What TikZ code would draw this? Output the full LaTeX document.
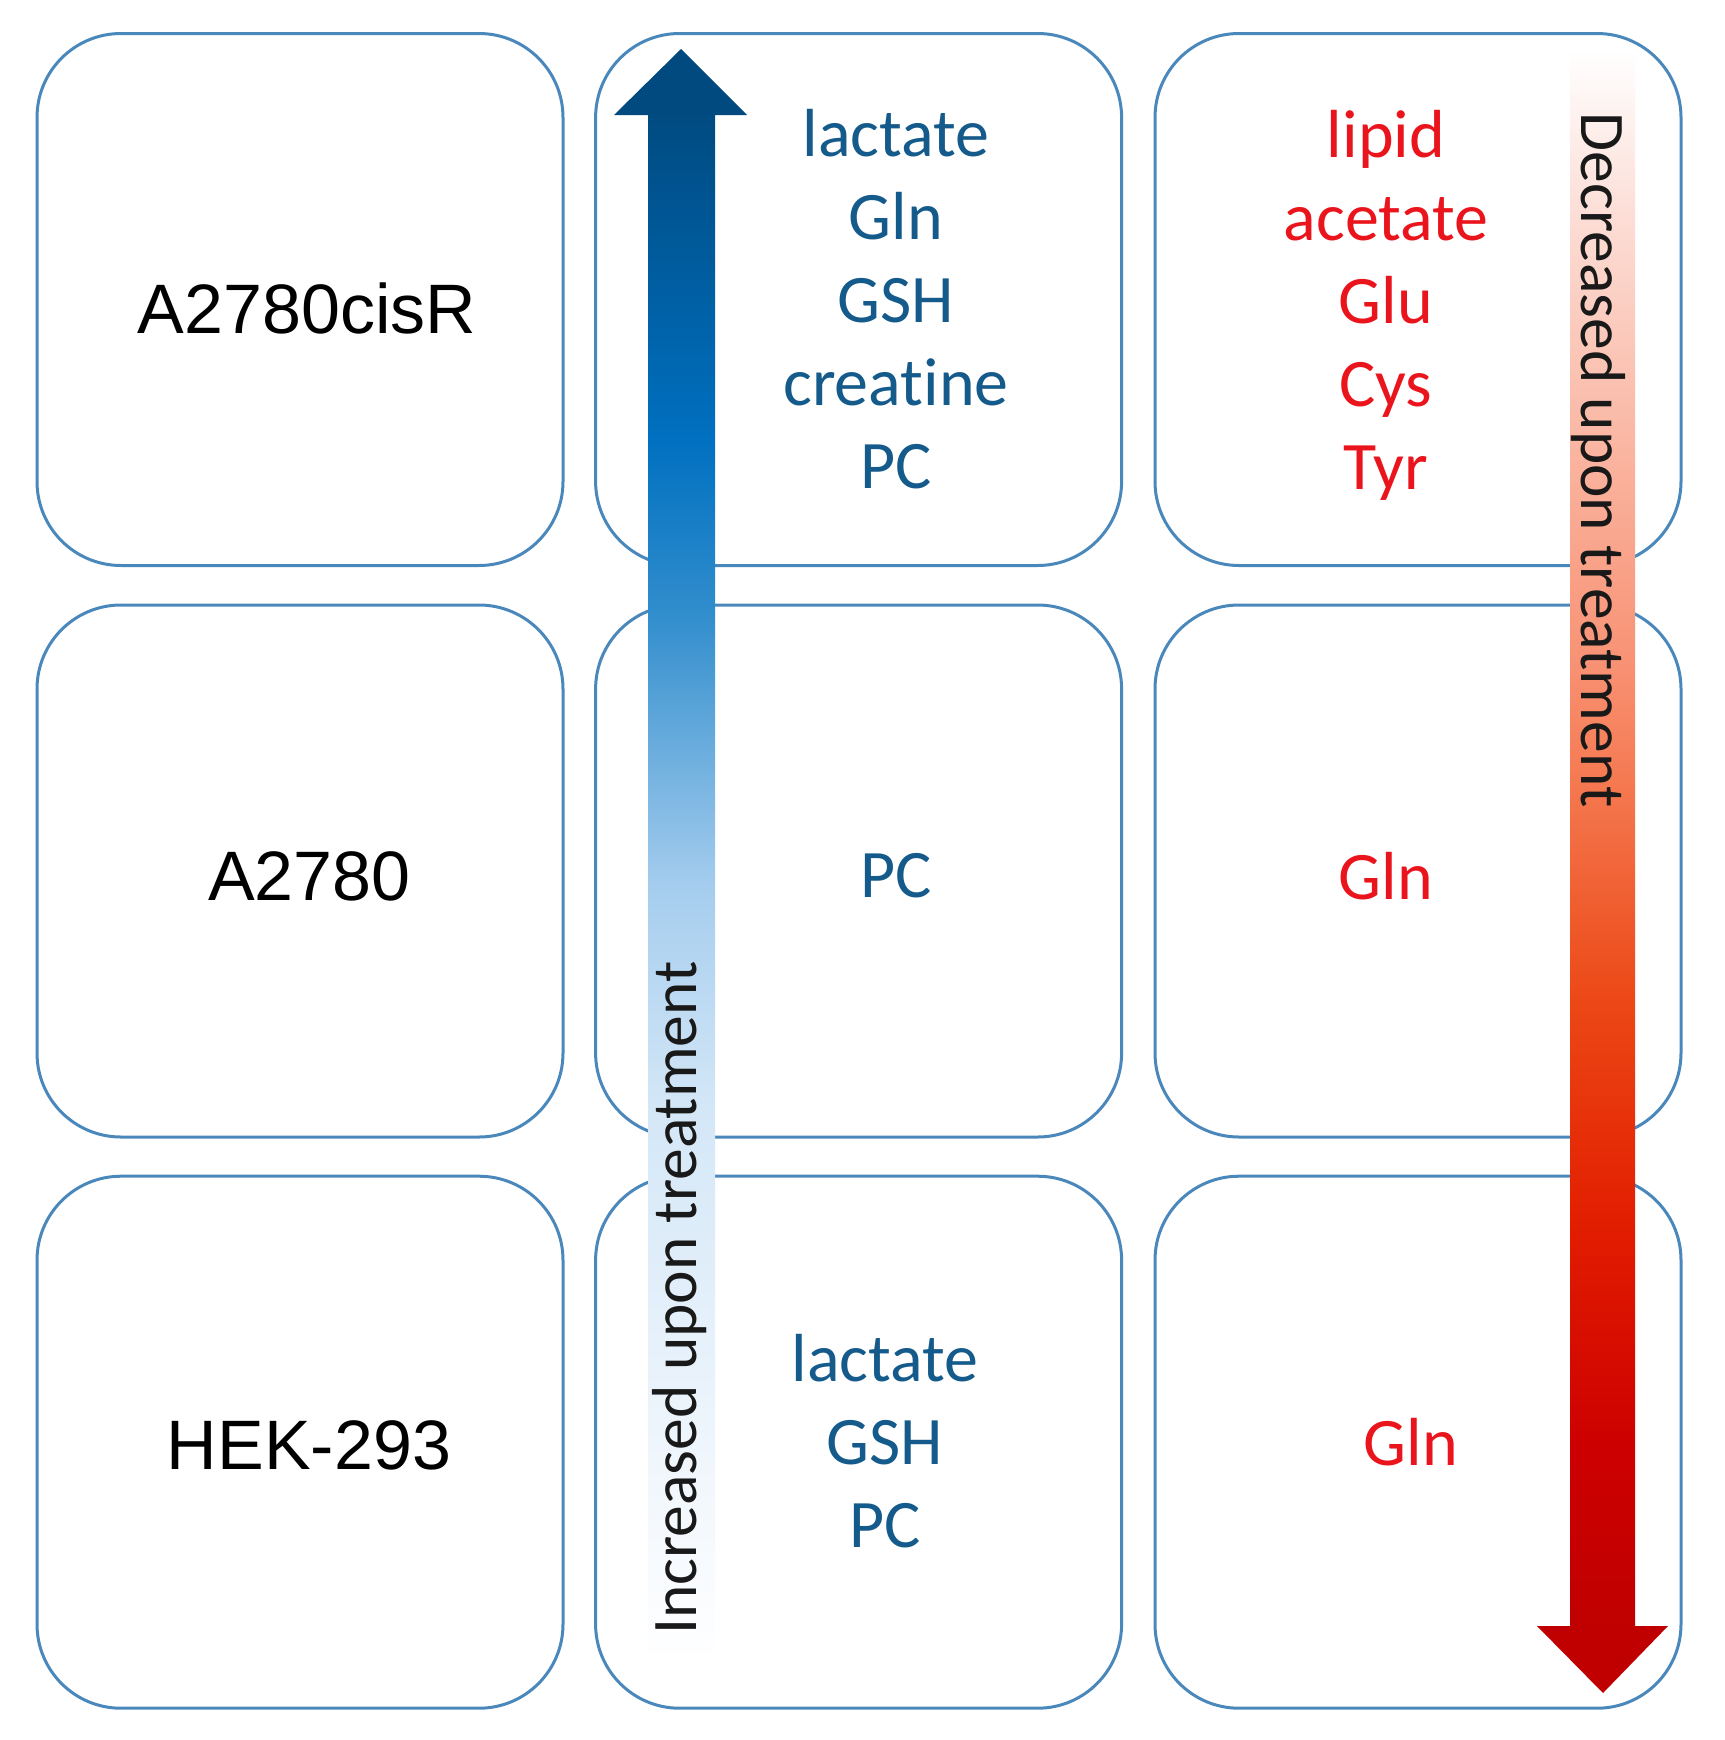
\documentclass[tikz,border=0pt]{standalone}
\usepackage{fontspec}
\setmainfont{Carlito}[Ligatures=NoCommon]
\newfontfamily\arialf{Liberation Sans}
\definecolor{boxline}{RGB}{74,136,188}
\definecolor{metblue}{RGB}{20,90,138}
\definecolor{metred}{RGB}{234,20,28}
% blue shaft stops (bottom to top)
\definecolor{bA}{RGB}{238,245,252}
\definecolor{bB}{RGB}{212,231,247}
\definecolor{bC}{RGB}{165,205,238}
\definecolor{bD}{RGB}{50,142,205}
\definecolor{bE}{RGB}{0,112,192}
\definecolor{bF}{RGB}{0,74,128}
% red shaft stops (bottom to top)
\definecolor{rA}{RGB}{192,0,0}
\definecolor{rB}{RGB}{205,0,0}
\definecolor{rC}{RGB}{226,30,0}
\definecolor{rD}{RGB}{236,72,22}
\definecolor{rE}{RGB}{245,122,82}
\definecolor{rF}{RGB}{248,145,115}
\definecolor{rG}{RGB}{250,182,162}
\definecolor{rH}{RGB}{252,220,212}
\pgfdeclareverticalshading{blueshaft}{100bp}{color(0bp)=(white); color(25bp)=(white); color(32.2bp)=(bA); color(42.9bp)=(bB); color(50bp)=(bC); color(58.7bp)=(bD); color(64.4bp)=(bE); color(75bp)=(bF); color(100bp)=(bF)}
\pgfdeclareverticalshading{redshaft}{100bp}{color(0bp)=(rA); color(25bp)=(rA); color(30.9bp)=(rB); color(37.9bp)=(rC); color(44.9bp)=(rD); color(52bp)=(rE); color(55.5bp)=(rF); color(62.5bp)=(rG); color(69.5bp)=(rH); color(75bp)=(white); color(100bp)=(white)}
\begin{document}
\begin{tikzpicture}[x=1pt,y=-1pt,
  cell/.style={draw=boxline, line width=3pt, rounded corners=84pt, minimum width=526pt, minimum height=532pt, inner sep=0pt},
  cellname/.style={font=\arialf\fontsize{70}{84}\selectfont, text=black, inner sep=0pt},
  metup/.style={font=\fontsize{68}{83}\selectfont, text=metblue, align=center, inner sep=0pt},
  metdown/.style={font=\fontsize{68}{83}\selectfont, text=metred, align=center, inner sep=0pt},
  arrowlabel/.style={font=\fontsize{63.5}{76}\selectfont, text=black!90, inner sep=0pt}]
\useasboundingbox (0,0) rectangle (1724,1740);
% cells
\node[cell] (c11) at (300,299.5) {};
\node[cell] (c12) at (858.6,299.5) {};
\node[cell] (c13) at (1418,299.5) {};
\node[cell] (c21) at (300,871) {};
\node[cell] (c22) at (858.6,871) {};
\node[cell] (c23) at (1418,871) {};
\node[cell] (c31) at (300,1442.2) {};
\node[cell] (c32) at (858.6,1442.2) {};
\node[cell] (c33) at (1418,1442.2) {};
% blue arrow (increase)
\shade[shading=blueshaft] (648,110) rectangle (715,1664);
\fill[bF] (614,115) -- (747,115) -- (681,49) -- cycle;
% red arrow (decrease)
\shade[shading=redshaft] (1570,50) rectangle (1635,1630);
\fill[rA] (1537,1626) -- (1668,1626) -- (1603,1693) -- cycle;
% cell names
\node[cellname] (n1) at (307,308) {A2780cisR};
\node[cellname] (n2) at (309.5,876) {A2780};
\node[cellname] (n3) at (309,1445) {HEK-293};
% metabolites
\node[metup] (m12) at (896,299) {lactate\\Gln\\GSH\\creatine\\PC};
\node[metup] (m22) at (896,876) {PC};
\node[metup] (m32) at (885,1441) {lactate\\GSH\\PC};
\node[metdown] (m13) at (1386,305) {lipid\\acetate\\Glu\\Cys\\Tyr};
\node[metdown] (m23) at (1386,876) {Gln};
\node[metdown] (m33) at (1411,1442) {Gln};
% arrow labels
\node[arrowlabel, rotate=90] (inc) at (680,1298) {Increased upon treatment};
\node[arrowlabel, rotate=-90] (dec) at (1598,460) {Decreased upon treatment};
\end{tikzpicture}
\end{document}
